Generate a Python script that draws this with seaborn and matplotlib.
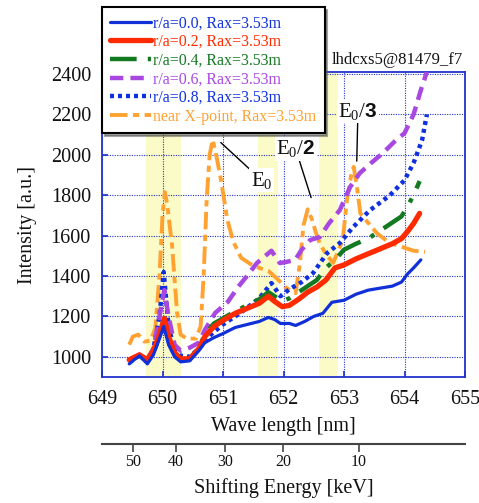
import numpy as np
import matplotlib
matplotlib.use("Agg")
import matplotlib.pyplot as plt
import seaborn as sns

# ---------------- data ----------------
wl_00 = [649.45, 649.55, 649.62, 649.75, 649.85, 649.95, 650.02, 650.1, 650.2, 650.3, 650.45, 650.6,
         650.7, 650.85, 651.0, 651.2, 651.4, 651.6, 651.75, 651.85, 651.95, 652.1, 652.2, 652.35, 652.5,
         652.65, 652.8, 653.0, 653.2, 653.4, 653.6, 653.8, 653.95, 654.05, 654.15, 654.27]
int_00 = [965, 990, 1005, 965, 1010, 1090, 1150, 1060, 1000, 975, 980, 1030, 1070, 1095, 1115, 1145, 1160,
          1175, 1195, 1185, 1165, 1165, 1155, 1175, 1200, 1215, 1270, 1280, 1310, 1330, 1340, 1350, 1370,
          1410, 1440, 1480]

wl_02 = [649.45, 649.55, 649.62, 649.75, 649.85, 649.95, 650.03, 650.1, 650.2, 650.3, 650.45, 650.6,
         650.7, 650.85, 651.0, 651.2, 651.4, 651.6, 651.75, 651.85, 651.98, 652.1, 652.25, 652.4, 652.55,
         652.7, 652.85, 653.0, 653.2, 653.4, 653.6, 653.8, 653.95, 654.05, 654.15, 654.25]
int_02 = [985, 1000, 1010, 985, 1030, 1110, 1190, 1100, 1020, 990, 990, 1040, 1100, 1150, 1180, 1215,
          1240, 1265, 1300, 1275, 1248, 1255, 1285, 1320, 1345, 1380, 1440, 1455, 1485, 1510, 1535, 1560,
          1585, 1620, 1660, 1710]

wl_04 = wl_02
int_04 = [980, 995, 1005, 975, 1020, 1100, 1192, 1100, 1010, 985, 990, 1045, 1110, 1165, 1190, 1225,
          1255, 1285, 1320, 1300, 1275, 1290, 1320, 1350, 1380, 1440, 1480, 1530, 1560, 1585, 1625, 1665,
          1695, 1745, 1800, 1870]

wl_06 = [649.45, 649.55, 649.62, 649.75, 649.85, 649.95, 650.03, 650.1, 650.2, 650.3, 650.45, 650.6,
         650.7, 650.87, 651.08, 651.25, 651.41, 651.56, 651.7, 651.8, 651.94, 652.05, 652.19, 652.3, 652.44,
         652.6, 652.75, 652.93, 653.1, 653.26, 653.45, 653.64, 653.85, 654.0, 654.15, 654.28, 654.37]
int_06 = [985, 1000, 1010, 990, 1040, 1200, 1330, 1200, 1060, 1030, 1045, 1070, 1133, 1217, 1272, 1346,
          1405, 1464, 1500, 1525, 1464, 1470, 1479, 1530, 1578, 1593, 1660, 1726, 1840, 1909, 1960, 2008,
          2070, 2107, 2200, 2330, 2410]

wl_08 = [649.45, 649.55, 649.62, 649.75, 649.85, 649.95, 650.02, 650.1, 650.2, 650.3, 650.45, 650.6,
         650.8, 651.0, 651.3, 651.6, 651.8, 651.95, 652.1, 652.3, 652.49, 652.72, 652.93, 653.15, 653.43,
         653.76, 654.0, 654.15, 654.29, 654.37]
int_08 = [970, 995, 1010, 980, 1040, 1200, 1420, 1150, 1030, 1005, 1000, 1040, 1110, 1160, 1220, 1290,
          1365, 1300, 1335, 1370, 1415, 1513, 1563, 1642, 1726, 1800, 1874, 1960, 2072, 2200]

wl_xp = [649.45, 649.51, 649.6, 649.7, 649.8, 649.88, 649.95, 650.0, 650.04, 650.08, 650.16, 650.24,
         650.3, 650.4, 650.55, 650.63, 650.68, 650.73, 650.78, 650.83, 650.9, 650.97, 651.07, 651.17,
         651.3, 651.45, 651.6, 651.75, 651.9, 652.05, 652.2, 652.27, 652.33, 652.4, 652.47, 652.53,
         652.6, 652.7, 652.82, 652.9, 652.98, 653.05, 653.12, 653.16, 653.21, 653.27, 653.38, 653.55,
         653.75, 653.95, 654.15, 654.34]
int_xp = [1060, 1100, 1110, 1075, 1080, 1140, 1400, 1700, 1815, 1750, 1545, 1220, 1110, 1090, 1090, 1150,
          1400, 1780, 2000, 2075, 1980, 1870, 1680, 1570, 1490, 1460, 1440, 1425, 1385, 1340, 1315, 1460,
          1650, 1730, 1680, 1620, 1560, 1510, 1465, 1520, 1580, 1780, 1900, 1940, 1850, 1710, 1670, 1610,
          1565, 1545, 1525, 1520]

series_labels = ["r/a=0.0, Rax=3.53m", "r/a=0.2, Rax=3.53m", "r/a=0.4, Rax=3.53m",
                 "r/a=0.6, Rax=3.53m", "r/a=0.8, Rax=3.53m", "near X-point, Rax=3.53m"]

band_lo = [649.73, 651.58, 652.59]
band_hi = [650.31, 651.91, 652.90]

energy_ticks = [50, 40, 30, 20, 10]
wl_ticks = [649, 650, 651, 652, 653, 654, 655]
int_ticks = [1000, 1200, 1400, 1600, 1800, 2000, 2200, 2400]

# ---------------- style ----------------
sns.set_theme(style="white")
plt.rcParams["font.family"] = ["Liberation Serif", "DejaVu Serif"]
plt.rcParams["mathtext.fontset"] = "custom"
plt.rcParams["mathtext.rm"] = "Liberation Serif"
plt.rcParams["mathtext.sf"] = "Liberation Sans:bold"

fig = plt.figure(figsize=(4.79, 5.03), dpi=100)
L, R, B, T = 102 / 479, 465 / 479, 1 - 377 / 503, 1 - 72 / 503
ax = fig.add_axes([L, B, R - L, T - B])

axis_blue = "#2233cc"

for lo, hi in zip(band_lo, band_hi):
    ax.axvspan(lo, hi, color="#fbfbc8", zorder=1, lw=0)

styles = [
    dict(color="#1030d8", lw=2.3, ls="-"),
    dict(color="#ff2a00", lw=3.8, ls="-"),
    dict(color="#137a22", lw=3.2, ls=(0, (6, 2.5, 1, 2.5))),
    dict(color="#a848e0", lw=3.2, ls=(0, (3, 1.6))),
    dict(color="#1030e0", lw=3.2, ls=(0, (0.9, 0.9))),
    dict(color="#ffa232", lw=2.8, ls=(0, (4.5, 1.4, 1.6, 1.4))),
]
xs = [wl_00, wl_02, wl_04, wl_06, wl_08, wl_xp]
ys = [int_00, int_02, int_04, int_06, int_08, int_xp]
draw_order = [5, 3, 4, 2, 1, 0]
handles = {}
for i in draw_order:
    st = styles[i]
    sns.lineplot(x=xs[i], y=ys[i], ax=ax, color=st["color"], linewidth=st["lw"],
                 linestyle=st["ls"], sort=False, label=series_labels[i], zorder=3 + (5 - i) * 0.01)
    line = ax.lines[-1]
    line.set_dash_capstyle("butt")
    handles[i] = line

ax.set_xlim(649, 655)
ax.set_ylim(900, 2410)
ax.set_xticks(wl_ticks)
ax.set_yticks(int_ticks)
ax.tick_params(axis="both", direction="in", length=4, color=axis_blue, labelsize=14.5,
               labelcolor="#111111", bottom=True, left=True)
ax.tick_params(axis="x", pad=9)
ax.tick_params(axis="y", pad=8)
ax.set_axisbelow("line")
ax.grid(True, color=axis_blue, linestyle=(0, (1, 1.2)), linewidth=0.8, zorder=1.5)
for sp in ax.spines.values():
    sp.set_color(axis_blue)
    sp.set_linewidth(1.3)

ax.set_xlabel("Wave length [nm]", fontsize=14.5, labelpad=6, color="#111111")
ax.set_ylabel("Intensity [a.u.]", fontsize=14.5, labelpad=10, color="#111111")

# legend
leg = ax.legend([handles[i] for i in range(6)], series_labels, loc="upper left",
                bbox_to_anchor=(102 / 479, 1 - 7 / 503), bbox_transform=fig.transFigure,
                fontsize=11.4, labelcolor="linecolor", frameon=True, fancybox=False, shadow=True,
                handlelength=2.6, handletextpad=0.12, labelspacing=0.17, borderpad=0.52,
                borderaxespad=0)
leg.get_frame().set_edgecolor("black")
leg.get_frame().set_linewidth(1.5)
leg.set_zorder(10)

# annotations
ann_kw = dict(fontsize=15, ha="center", va="center", color="#111111",
              bbox=dict(fc="white", ec="none", pad=1),
              arrowprops=dict(arrowstyle="-", color="black", lw=1.0, shrinkA=0, shrinkB=2))
ax.annotate(r"$\mathregular{E_0}$", xy=(650.93, 2070), xytext=(651.64, 1874), **ann_kw)
ax.annotate(r"$\mathregular{E_0/}\mathsf{2}$", xy=(652.47, 1775), xytext=(652.2, 2030), **ann_kw)
ax.annotate(r"$\mathregular{E_0/}\mathsf{3}$", xy=(653.21, 1955), xytext=(653.23, 2215), **ann_kw)

ax.text(0.995, 1.012, "lhdcxs5@81479_f7", transform=ax.transAxes, ha="right", va="bottom",
        fontsize=12, color="#111111")

# secondary energy axis (Doppler shift of H-alpha for hydrogen beam energy)
lam0 = 656.28
c = 2.998e8
mp = 1.6726e-27
ev = 1.602e-19
e_wl = [lam0 - lam0 * np.sqrt(2 * E * 1e3 * ev / mp) / c for E in energy_ticks]

ax2 = fig.add_axes([L, 1 - 444 / 503, R - L, 0.001])
ax2.set_xlim(649, 655)
ax2.set_ylim(0, 1)
ax2.patch.set_visible(False)
for k in ["top", "left", "right"]:
    ax2.spines[k].set_visible(False)
ax2.spines["bottom"].set_color("#444444")
ax2.spines["bottom"].set_linewidth(1.5)
ax2.set_yticks([])
ax2.set_xticks(e_wl)
ax2.set_xticklabels([str(e) for e in energy_ticks])
ax2.tick_params(axis="x", direction="out", length=5.5, width=1.2, color="#444444", labelsize=11.5,
                pad=1.5, labelcolor="#111111", bottom=True)
ax2.set_xlabel("Shifting Energy [keV]", fontsize=14.5, labelpad=6, color="#111111")

fig.savefig("out.png", dpi=100)
